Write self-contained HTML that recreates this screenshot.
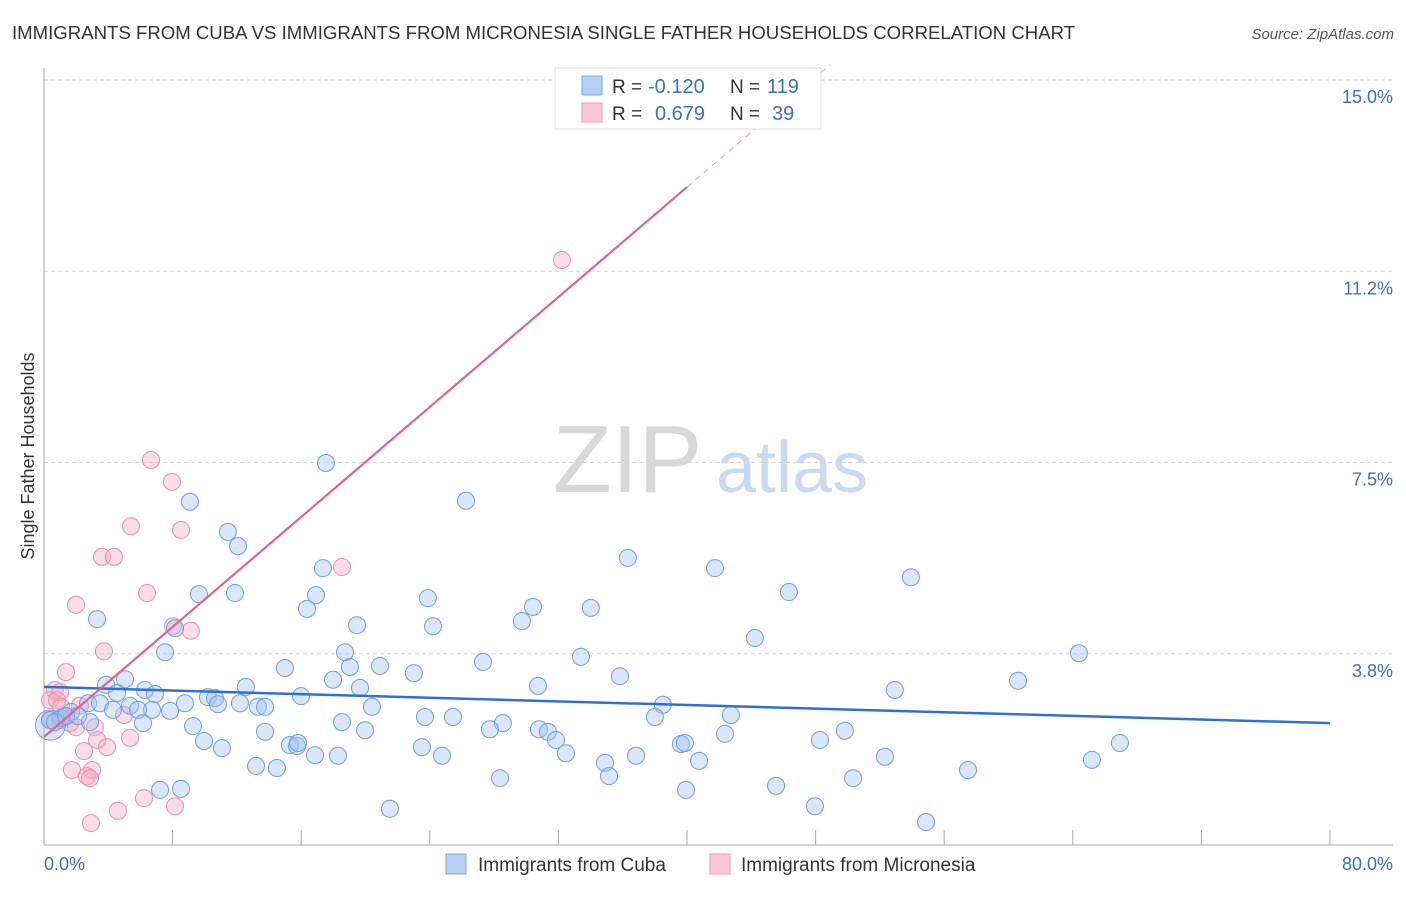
<!DOCTYPE html>
<html><head><meta charset="utf-8"><style>
body{margin:0;background:#fff;font-family:"Liberation Sans",sans-serif;}
svg text{font-family:"Liberation Sans",sans-serif;}
</style></head><body>
<svg id="chart" width="1406" height="892" xmlns="http://www.w3.org/2000/svg">
<text x="12" y="39" font-size="18.6" fill="#333">IMMIGRANTS FROM CUBA VS IMMIGRANTS FROM MICRONESIA SINGLE FATHER HOUSEHOLDS CORRELATION CHART</text>
<text x="1394" y="39" font-size="15" fill="#555" text-anchor="end" font-style="italic">Source: ZipAtlas.com</text>
<g>
<text x="553" y="492" font-size="96" font-family="Liberation Serif" fill="#d8d8d8">ZIP</text>
<text x="716" y="492" font-size="72" fill="#c9daf2">atlas</text>
</g>
<g id="grid"></g>
<g id="axes"></g>
<g id="pink-points"></g>
<g id="blue-points"></g>
<g id="lines"></g>
<text transform="translate(34,456) rotate(-90)" font-size="18" fill="#333" text-anchor="middle">Single Father Households</text>
<g>
<rect x="555" y="68" width="266" height="61" fill="#fff" stroke="#ddd"/>
<rect x="582" y="76" width="20" height="19" fill="#b7d1f4" stroke="#7fa9e6"/>
<rect x="582" y="103" width="20" height="19" fill="#fac8d6" stroke="#ee9ab4"/>
<text x="612" y="93" font-size="19" fill="#333">R =</text>
<text x="648" y="93" font-size="20" fill="#3a70c8">-0.120</text>
<text x="730" y="93" font-size="19" fill="#333">N =</text>
<text x="767" y="93" font-size="20" fill="#3a70c8">119</text>
<text x="612" y="120" font-size="19" fill="#333">R =</text>
<text x="655" y="120" font-size="20" fill="#3a70c8">0.679</text>
<text x="730" y="120" font-size="19" fill="#333">N =</text>
<text x="772" y="120" font-size="20" fill="#3a70c8">39</text>
</g>
<g>
<rect x="446" y="854" width="20" height="20" fill="#b7d1f4" stroke="#7fa9e6"/>
<text x="478" y="871" font-size="19" fill="#333">Immigrants from Cuba</text>
<rect x="710" y="854" width="20" height="20" fill="#fac8d6" stroke="#ee9ab4"/>
<text x="741" y="871" font-size="19" fill="#333">Immigrants from Micronesia</text>
</g>
</svg>
<script>
const yTicks=[3.75,7.5,11.25,15];
const yTickLabels=["3.8%","7.5%","11.2%","15.0%"];
const xLabels=["0.0%","80.0%"];
const cubaX=[17.54,26.25,9.08,11.44,12.07,36.32,41.74,17.35,53.93,46.34,9.64,11.88,16.92,23.88,16.36,30.42,34.02,29.73,3.30,19.47,24.20,8.15,44.22,7.53,18.72,64.38,33.40,27.31,14.99,19.03,20.90,23.01,35.83,5.04,17.98,60.59,3.86,6.28,12.56,19.66,52.93,30.73,4.54,6.90,10.20,10.64,15.99,2.74,8.77,3.48,5.35,12.19,20.40,38.50,13.31,13.75,4.29,6.72,7.84,10.82,5.85,1.68,1.06,23.70,25.44,38.0,42.73,2.86,6.16,9.27,18.54,28.55,27.74,30.79,31.35,19.97,13.75,42.36,49.82,31.85,9.95,11.07,15.30,15.74,15.80,23.51,39.62,39.87,48.27,66.93,32.47,16.86,18.29,24.76,36.83,52.31,34.90,40.75,65.19,13.19,14.49,57.48,35.15,28.37,50.33,45.54,7.22,8.52,39.94,21.52,47.96,54.87,0.37,0.68,1.37,2.12];
const cubaY=[7.49,6.75,6.73,6.14,5.86,5.63,5.43,5.43,5.25,4.96,4.92,4.94,4.90,4.84,4.63,4.67,4.65,4.39,4.43,4.31,4.29,4.25,4.06,3.78,3.78,3.76,3.69,3.59,3.47,3.49,3.51,3.37,3.31,3.25,3.24,3.22,3.14,3.04,3.10,3.08,3.04,3.12,2.98,2.96,2.90,2.88,2.92,2.78,2.78,2.78,2.73,2.78,2.71,2.75,2.71,2.71,2.65,2.65,2.63,2.76,2.65,2.61,2.49,2.51,2.51,2.51,2.55,2.41,2.39,2.33,2.41,2.39,2.27,2.27,2.22,2.25,2.22,2.18,2.24,2.06,2.04,1.90,1.96,1.94,2.0,1.92,1.98,2.0,2.06,2.0,1.80,1.76,1.75,1.75,1.75,1.73,1.61,1.65,1.67,1.55,1.51,1.47,1.35,1.31,1.31,1.16,1.08,1.10,1.08,0.71,0.76,0.45,2.45,2.41,2.53,2.53];
const microX=[32.22,6.66,7.96,5.41,8.52,3.61,4.35,18.54,6.41,1.99,8.02,9.14,3.73,1.37,0.68,1.0,0.37,0.81,1.06,2.24,4.98,1.24,1.99,3.17,1.62,3.30,3.92,2.49,5.35,1.74,2.99,2.67,2.86,6.22,8.15,4.60,2.92,0.37,1.0];
const microY=[11.47,7.55,7.12,6.25,6.18,5.65,5.65,5.45,4.94,4.71,4.29,4.20,3.80,3.39,3.04,3.0,2.84,2.84,2.71,2.73,2.55,2.51,2.31,2.31,2.39,2.06,1.92,1.84,2.10,1.47,1.47,1.35,1.31,0.92,0.76,0.67,0.43,2.45,2.45];
const cubaTrend=[3.10,2.39];
const microTrend=[2.12,12.9];
const NS="http://www.w3.org/2000/svg";
const X=v=>44+v*16.075, Y=v=>845-v*51.0;
function mk(t,a,p){const e=document.createElementNS(NS,t);for(const k in a)e.setAttribute(k,a[k]);p.appendChild(e);return e;}
const grid=document.getElementById('grid'),axes=document.getElementById('axes');
yTicks.forEach((t,i)=>{
 const l=mk('line',{x1:44,x2:1393,y1:Y(t),y2:Y(t),stroke:'#d5d5d5','stroke-dasharray':'4,3'},grid);
 
 
 const tx=mk('text',{x:1393,y:Y(t)+23,'font-size':18,fill:'#3a70c8','text-anchor':'end'},axes);
 tx.textContent=yTickLabels[i];
 
 
});
mk('line',{x1:44,x2:44,y1:68,y2:845,stroke:'#aaa'},axes);
mk('line',{x1:44,x2:1393,y1:845,y2:845,stroke:'#aaa'},axes);
for(let v=8;v<=80;v+=8){const t=mk('line',{x1:X(v),x2:X(v),y1:830,y2:845,stroke:'#aaa'},axes);}
const xl0=mk('text',{x:44,y:870,'font-size':18,fill:'#3a70c8'},axes);xl0.textContent=xLabels[0];


const xl1=mk('text',{x:1393,y:870,'font-size':18,fill:'#3a70c8','text-anchor':'end'},axes);xl1.textContent=xLabels[1];


const pg=document.getElementById('pink-points');
microX.forEach((x,i)=>{const c=mk('circle',{cx:X(x),cy:Y(microY[i]),r:8.5,fill:'rgba(246,170,196,0.4)',stroke:'#ea8fac','stroke-width':1},pg);
 
 });
const bg=document.getElementById('blue-points');
const big=mk('circle',{cx:X(0.4),cy:Y(2.35),r:15,fill:'rgba(160,195,240,0.4)',stroke:'#6f9fe0'},bg);


cubaX.forEach((x,i)=>{const c=mk('circle',{cx:X(x),cy:Y(cubaY[i]),r:8.5,fill:'rgba(160,195,240,0.4)',stroke:'#6f9fe0','stroke-width':1},bg);
 
 });
const lg=document.getElementById('lines');
const bl=mk('line',{x1:X(0),y1:Y(cubaTrend[0]),x2:X(80),y2:Y(cubaTrend[1]),stroke:'#2f6fd6','stroke-width':2.5},lg);


const sl=(microTrend[1]-microTrend[0])/40;
const pl=mk('line',{x1:X(0),y1:Y(microTrend[0]),x2:X(40),y2:Y(microTrend[1]),stroke:'#e4628f','stroke-width':2.2},lg);


const xe=(15.3-microTrend[0])/sl;
const pd=mk('line',{x1:X(40),y1:Y(microTrend[1]),x2:X(xe),y2:Y(15.3),stroke:'#eaa0b8','stroke-width':1,'stroke-dasharray':'6,5'},lg);


</script>
</body></html>
